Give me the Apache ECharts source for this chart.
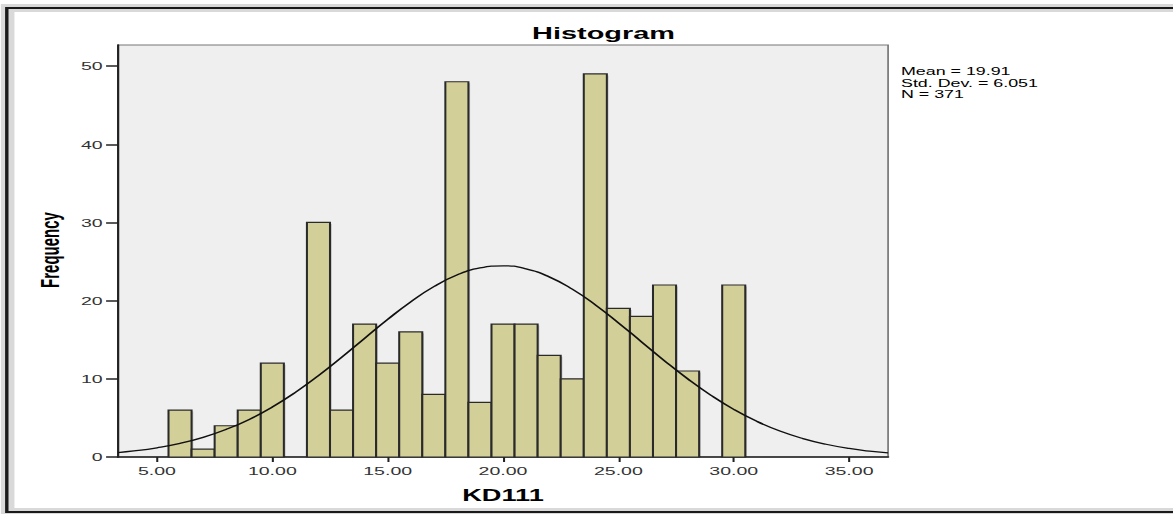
<!DOCTYPE html>
<html>
<head>
<meta charset="utf-8">
<script src="https://cdn.jsdelivr.net/npm/echarts@6/dist/echarts.min.js"></script>
<style>
html,body{margin:0;padding:0;background:#fff;overflow:hidden;width:1173px;height:514px;}
#chart{width:690px;height:514px;transform:scaleX(1.7);transform-origin:0 0;}
</style>
</head>
<body>
<div id="chart"></div>
<script>
// Histogram bins (bin centre, width 1) and frequencies
var binCenters = [6,7,8,9,10,11,12,13,14,15,16,17,18,19,20,21,22,23,24,25,26,27,28,29,30];
var frequencies = [6,1,4,6,12,0,30,6,17,12,16,8,48,7,17,17,13,10,49,19,18,22,11,0,22];

// Normal curve points
var curveX = [3.31,4,5,6,7,8,9,10,11,12,13,14,15,16,17,18,19,20,21,22,23,24,25,26,27,28,29,30,31,32,33,34,35,36,36.69];
var curveY = [0.57,0.77,1.18,1.74,2.51,3.53,4.81,6.40,8.27,10.41,12.74,15.18,17.60,19.85,21.79,23.27,24.19,24.46,24.07,23.04,21.47,19.47,17.17,14.74,12.31,10.01,7.92,6.09,4.56,3.32,2.36,1.63,1.09,0.71,0.52];

var xTicks = [5,10,15,20,25,30,35];
var yTicks = [0,10,20,30,40,50];
var statsLines = ['Mean = 19.91','Std. Dev. = 6.051','N = 371'];

var barData = binCenters.map(function(c,i){return [c, frequencies[i]];}).filter(function(d){return d[1] > 0;});
var curveData = curveX.map(function(x,i){return [x, curveY[i]];});

var FONT = 'Liberation Sans, Arial, sans-serif';
var statsGraphics = statsLines.map(function(t, i){
  return {type: 'text', left: 530, top: 66 + i * 11.5, z: 10,
    style: {text: t, fontFamily: FONT, fontSize: 10.5, fill: '#000'}};
});

var chart = echarts.init(document.getElementById('chart'), null, {renderer: 'svg'});
chart.setOption({
  animation: false,
  backgroundColor: '#ffffff',
  title: {
    text: 'Histogram',
    left: 350, top: 20, textAlign: 'center',
    textStyle: {fontFamily: FONT, fontWeight: 'bold', fontSize: 17, color: '#000'}
  },
  graphic: [
    {type: 'rect', shape: {x: 4.5, y: 8, width: 700, height: 504}, z: -1,
     style: {fill: 'none', stroke: 'rgba(0,0,0,0.15)', lineWidth: 8}},
    {type: 'rect', shape: {x: 4, y: 8, width: 700, height: 504}, z: -1,
     style: {fill: 'none', stroke: '#1a1a1a', lineWidth: 2}},
    {type: 'text', x: 29.5, y: 250, rotation: Math.PI / 2, z: 10,
     style: {text: 'Frequency', fontFamily: FONT, fontWeight: 'bold', fontSize: 15, fill: '#000', align: 'center', verticalAlign: 'middle'}}
  ].concat(statsGraphics),
  grid: {left: 69.4, right: 167.6, top: 45, bottom: 57, show: true, backgroundColor: '#efefef', borderColor: '#777', borderWidth: 1},
  xAxis: {
    type: 'value', min: 3.31, max: 36.69,
    name: 'KD111', nameLocation: 'middle', nameGap: 31,
    nameTextStyle: {fontFamily: FONT, fontWeight: 'bold', fontSize: 16, color: '#000'},
    splitLine: {show: false},
    axisLine: {show: true, lineStyle: {color: '#222', width: 1.5}},
    axisTick: {show: true, length: 5, lineStyle: {color: '#222', width: 1.2}, customValues: xTicks},
    axisLabel: {customValues: xTicks, margin: 8, color: '#333', fontFamily: FONT, fontSize: 11.5,
      formatter: function(v){return v.toFixed(2);}}
  },
  yAxis: {
    type: 'value', min: 0, max: 52.7,
    splitLine: {show: false},
    axisLine: {show: true, lineStyle: {color: '#222', width: 1.3}},
    axisTick: {show: true, length: 7, lineStyle: {color: '#222', width: 1.5}, customValues: yTicks},
    axisLabel: {customValues: yTicks, margin: 9, color: '#333', fontFamily: FONT, fontSize: 11.5}
  },
  series: [
    {
      type: 'custom',
      data: barData,
      z: 2,
      renderItem: function(params, api){
        var c = api.value(0), f = api.value(1);
        var p1 = api.coord([c - 0.5, f]);
        var p2 = api.coord([c + 0.5, 0]);
        return {
          type: 'group',
          children: [
            {type: 'rect', shape: {x: p1[0] + 1, y: p1[1] + 1.5, width: p2[0] - p1[0], height: p2[1] - p1[1] - 1.5},
             style: {fill: 'rgba(0,0,0,0.2)'}},
            {type: 'rect', shape: {x: p1[0], y: p1[1], width: p2[0] - p1[0], height: p2[1] - p1[1]},
             style: {fill: '#d3cf98', stroke: '#2a2a2a', lineWidth: 1.2}}
          ]
        };
      }
    },
    {
      type: 'line',
      data: curveData,
      smooth: true,
      showSymbol: false,
      z: 5,
      lineStyle: {color: '#111', width: 1.3}
    }
  ]
});
</script>
</body>
</html>
